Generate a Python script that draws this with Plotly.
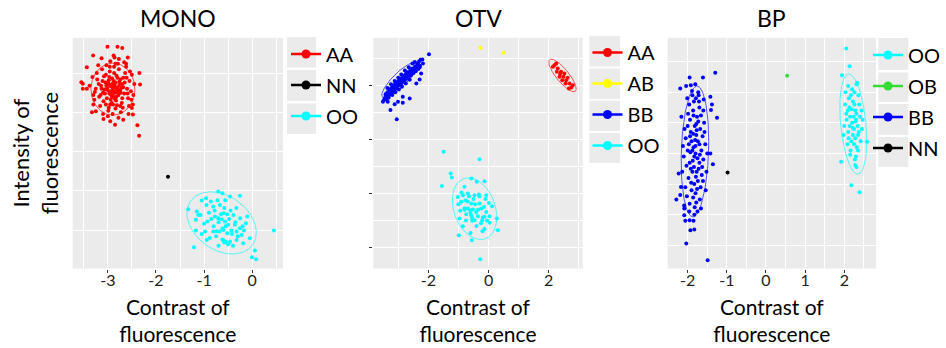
import numpy as np
import plotly.graph_objects as go

W, H = 946, 348
FONT = "Lato"

# ---------------- DATA ----------------
# MONO panel
MONO_AA = [
    (-3.008, 1.835), (-2.80, 1.835), (-2.70, 1.82), (-3.305, 1.724), (-3.13, 1.69), (-2.88, 1.724),
    (-2.585, 1.70), (-3.436, 1.575), (-3.55, 1.383), (-3.52, 1.366), (-3.52, 1.30), (-3.436, 1.30),
    (-2.344, 1.503), (-2.33, 1.354), (-3.33, 1.0), (-3.25, 1.013), (-3.09, 0.916), (-2.85, 0.843),
    (-2.95, 0.885), (-2.68, 0.907), (-2.50, 1.056), (-2.48, 0.971), (-2.386, 0.834), (-2.35, 0.702),
    (-2.95, 1.10), (-3.30, 1.10),
    (-2.90, 1.30), (-2.85, 1.25), (-2.95, 1.35), (-2.80, 1.32), (-3.00, 1.28), (-2.88, 1.40), (-2.92, 1.20),
    (-2.75, 1.28), (-3.05, 1.38), (-2.83, 1.15), (-2.97, 1.45), (-2.70, 1.36), (-3.10, 1.25), (-2.86, 1.33),
    (-2.78, 1.22), (-2.93, 1.27), (-3.02, 1.18), (-2.66, 1.24), (-2.82, 1.47), (-3.14, 1.34), (-2.89, 1.10),
    (-2.74, 1.42), (-3.08, 1.46), (-2.60, 1.30), (-2.96, 1.52), (-3.18, 1.20), (-2.84, 1.05), (-2.71, 1.12),
    (-3.04, 1.10), (-2.55, 1.40), (-3.22, 1.42), (-2.87, 1.58), (-2.64, 1.50), (-3.12, 1.55), (-2.79, 1.62),
    (-3.25, 1.30), (-2.58, 1.18), (-2.99, 1.02), (-2.69, 1.06), (-3.16, 1.08), (-2.91, 1.36), (-2.81, 1.29),
    (-2.94, 1.23), (-2.76, 1.35), (-3.01, 1.32), (-2.87, 1.19), (-2.72, 1.31), (-3.06, 1.24), (-2.84, 1.38),
    (-2.98, 1.41), (-2.52, 1.27), (-2.62, 1.58), (-3.28, 1.16), (-2.50, 1.48), (-3.20, 1.60), (-2.95, 1.65),
    (-2.77, 1.68), (-3.32, 1.45), (-2.56, 1.08), (-3.10, 0.98), (-2.47, 1.22), (-2.68, 1.44), (-3.13, 1.30),
    (-2.90, 0.98), (-2.73, 1.00), (-2.45, 1.36), (-3.27, 1.26), (-2.62, 1.62), (-3.03, 1.60), (-2.86, 1.70),
    (-3.00, 0.95), (-2.57, 0.98), (-3.38, 1.34), (-2.48, 1.10), (-2.78, 0.93),
    (-2.88, 1.27), (-2.83, 1.31), (-2.93, 1.33), (-2.79, 1.26), (-2.97, 1.24), (-2.86, 1.36), (-2.90, 1.22),
    (-2.82, 1.20), (-3.03, 1.34), (-2.76, 1.39), (-2.91, 1.43), (-2.73, 1.25), (-3.07, 1.29), (-2.85, 1.17),
    (-2.68, 1.32), (-2.99, 1.37), (-2.80, 1.44), (-2.94, 1.16), (-3.11, 1.40), (-2.65, 1.38), (-2.87, 1.50),
    (-3.04, 1.48), (-2.77, 1.55), (-2.92, 1.12), (-2.70, 1.18), (-3.15, 1.22), (-2.61, 1.44), (-2.96, 1.58),
    (-2.84, 1.62), (-3.09, 1.14), (-2.74, 1.08), (-3.19, 1.36), (-2.59, 1.24), (-2.81, 1.09), (-3.23, 1.50),
    (-2.54, 1.52), (-2.98, 1.06), (-2.66, 1.64), (-3.30, 1.22), (-2.51, 1.16),
]
MONO_NN = [(-1.75, 0.18)]
MONO_OO = [
    (-0.705, -0.009), (-0.62, -0.03), (-0.255, -0.064), (-0.46, -0.073), (-1.05, -0.124), (-0.96, -0.094),
    (-1.33, -0.234), (-0.86, -0.137), (-1.15, -0.264), (-1.12, -0.307), (-1.07, -0.307), (-1.17, -0.37),
    (-0.93, -0.39), (-0.81, -0.20), (-0.67, -0.18), (-0.60, -0.285), (-0.39, -0.307), (-0.774, -0.328),
    (-0.705, -0.349), (-0.635, -0.361), (-0.566, -0.39), (-0.50, -0.434), (-0.36, -0.434), (-0.255, -0.477),
    (-0.104, -0.328), (-0.13, -0.413), (-1.17, -0.507), (-0.98, -0.52), (-0.81, -0.52), (-0.74, -0.515),
    (-0.60, -0.498), (-0.52, -0.54), (-0.43, -0.507), (-0.325, -0.52), (-0.17, -0.507), (-0.60, -0.626),
    (-0.58, -0.66), (-0.546, -0.648), (-0.46, -0.648), (-0.946, -0.626), (-0.22, -0.562), (-0.05, -0.604),
    (-0.325, -0.626), (-0.187, -0.668), (-1.21, -0.72), (0.056, -0.762), (-0.006, -0.847), (0.083, -0.872),
    (0.45, -0.507),
    (-0.70, -0.40), (-0.55, -0.45), (-0.65, -0.30), (-0.48, -0.36), (-0.80, -0.45), (-0.42, -0.55),
    (-0.90, -0.28), (-0.58, -0.22), (-0.35, -0.40), (-0.75, -0.58), (-0.62, -0.48), (-0.52, -0.30),
    (-0.85, -0.36), (-0.68, -0.52), (-0.45, -0.25), (-1.00, -0.42), (-0.30, -0.58), (-0.95, -0.18),
    (-0.50, -0.68), (-0.72, -0.12), (-0.40, -0.70), (-0.25, -0.35), (-1.05, -0.55), (-0.78, -0.25),
    (-0.62, -0.62), (-0.20, -0.45), (-0.88, -0.60), (-0.56, -0.12), (-0.33, -0.22), (-0.70, -0.70),
]

# OTV panel
OTV_AA = [
    (2.19, 2.37), (2.30, 2.31), (2.41, 2.25), (2.49, 2.155), (2.58, 2.094), (2.69, 2.033), (2.75, 1.96),
    (2.27, 2.25), (2.36, 2.155), (2.52, 2.218), (2.14, 2.34), (2.63, 2.14), (2.45, 2.094), (2.80, 2.00),
    (2.25, 2.40), (2.56, 2.033), (2.38, 2.205), (2.67, 1.94),
]
OTV_AB = [(-0.27, 2.69), (0.50, 2.60)]
OTV_BB = [
    (-1.98, 2.57), (-2.20, 2.477), (-2.18, 2.40), (-2.35, 2.40), (-2.29, 2.33), (-2.24, 2.218), (-2.29, 2.107),
    (-2.40, 2.033), (-2.62, 1.756), (-2.85, 1.786), (-3.01, 1.693), (-3.12, 1.65), (-3.26, 1.54), (-3.05, 1.373),
    (-3.51, 1.693), (-3.42, 1.835), (-3.35, 1.693), (-2.85, 1.675),
    (-3.45, 1.76), (-3.42, 1.80), (-3.40, 1.84), (-3.38, 1.78), (-3.36, 1.87), (-3.35, 1.81), (-3.33, 1.85),
    (-3.30, 1.90), (-3.30, 1.82), (-3.28, 1.88), (-3.26, 1.93), (-3.25, 1.85), (-3.23, 1.90), (-3.21, 1.96),
    (-3.20, 1.88), (-3.18, 1.93), (-3.16, 1.99), (-3.15, 1.90), (-3.13, 1.95), (-3.12, 2.01), (-3.10, 1.93),
    (-3.08, 1.99), (-3.06, 2.04), (-3.05, 1.96), (-3.03, 2.01), (-3.01, 2.07), (-3.00, 1.99), (-2.98, 2.04),
    (-2.96, 2.10), (-2.95, 2.01), (-2.93, 2.06), (-2.91, 2.12), (-2.90, 2.03), (-2.88, 2.09), (-2.86, 2.15),
    (-2.85, 2.06), (-2.82, 2.12), (-2.80, 2.18), (-2.79, 2.08), (-2.76, 2.15), (-2.74, 2.21), (-2.72, 2.12),
    (-2.70, 2.18), (-2.68, 2.24), (-2.66, 2.15), (-2.63, 2.22), (-2.60, 2.28), (-2.58, 2.18), (-2.55, 2.25),
    (-2.52, 2.31), (-2.50, 2.22), (-2.47, 2.29), (-2.44, 2.35), (-2.42, 2.26), (-2.39, 2.33), (-2.36, 2.38),
    (-2.33, 2.30), (-2.31, 2.44), (-2.28, 2.36), (-2.26, 2.47), (-3.48, 1.72), (-3.40, 1.74), (-3.32, 1.77),
    (-3.20, 1.82), (-3.10, 1.87), (-2.98, 1.92), (-2.88, 1.97), (-2.75, 2.03), (-2.62, 2.10), (-3.36, 1.95),
    (-3.24, 2.02), (-3.12, 2.08), (-3.00, 2.14), (-2.90, 2.20), (-2.78, 2.27), (-2.65, 2.33), (-2.53, 2.40),
    (-2.45, 2.43),
]
OTV_OO = [
    (-1.495, 0.769), (-0.30, 0.634), (-1.262, 0.37), (-1.22, 0.296), (-1.55, 0.14), (-0.80, 0.122),
    (-0.575, 0.277), (-0.39, 0.215), (-0.133, 0.227), (-1.02, -0.063), (-0.853, -0.031), (-0.687, 0.0),
    (-0.465, -0.031), (-0.322, -0.018), (-0.076, -0.031), (-0.907, -0.155), (-0.764, -0.124), (-0.575, -0.185),
    (-0.30, -0.185), (0.01, -0.174), (-0.94, -0.32), (-0.797, -0.277), (-0.687, -0.277), (-0.608, -0.309),
    (-0.52, -0.296), (-0.41, -0.34), (-0.243, -0.277), (-0.076, -0.34), (0.12, -0.235), (-0.74, -0.383),
    (-0.575, -0.40), (-0.355, -0.42), (-0.19, -0.444), (-0.133, -0.432), (0.033, -0.42), (-0.963, -0.462),
    (-0.542, -0.506), (-0.465, -0.494), (-0.21, -0.494), (0.276, -0.462), (-0.853, -0.604), (-0.133, -0.654),
    (0.033, -0.543), (0.31, -0.678), (-0.598, -0.728), (-0.987, -0.771), (-0.555, -0.863), (-0.276, -1.214),
    (-0.60, -0.35), (-0.45, -0.20), (-0.70, -0.15), (-0.35, -0.30), (-0.55, -0.45), (-0.25, -0.55),
    (-0.80, -0.30), (-0.40, -0.60), (-0.65, -0.05), (-0.15, -0.25), (-0.50, -0.10), (-0.30, -0.05),
    (-0.90, 0.02), (-0.20, -0.70), (-0.75, -0.50), (-0.10, -0.10), (-1.00, -0.20), (-0.05, -0.50),
]

# BP panel
BP_OO = [
    (2.05, 1.715), (2.135, 1.426), (1.94, 1.279), (2.31, 1.132), (2.58, 0.19), (1.92, -0.137), (2.28, -0.19),
    (2.31, -0.22), (2.18, -0.518), (2.39, -0.632),
    (2.20, 0.50), (2.25, 0.40), (2.15, 0.60), (2.30, 0.55), (2.10, 0.35), (2.28, 0.70), (2.18, 0.20),
    (2.35, 0.30), (2.05, 0.65), (2.22, 0.85), (2.32, 0.10), (2.12, 0.90), (2.40, 0.60), (2.00, 0.45),
    (2.26, 1.00), (2.16, 0.05), (2.38, 0.80), (2.08, 0.15), (2.30, -0.05), (2.20, 1.05), (2.45, 0.40),
    (2.02, 0.80), (2.24, 0.60), (2.34, 0.45), (2.14, 0.45), (2.28, 0.25), (2.19, 0.72), (2.42, 0.20),
    (1.98, 0.30), (2.36, 0.95), (2.10, 1.10), (2.27, -0.10), (2.22, 0.30), (2.31, 0.65), (2.13, 0.75),
    (2.47, 0.55), (2.06, 0.55), (2.25, 0.15), (2.17, 0.95), (2.33, 1.15), (2.21, 0.42), (2.29, 0.52),
    (2.11, 0.25), (2.37, 0.35), (2.03, 1.00), (2.44, 0.70), (2.26, 0.80), (2.15, -0.02), (2.35, 0.05),
    (2.09, 0.70),
]
BP_OB = [(0.54, 1.27)]
BP_BB = [
    (-1.295, 1.317), (-1.95, 1.242), (-1.61, 1.242), (-2.19, 1.062), (-2.04, 1.10), (-1.92, 1.116),
    (-1.806, 1.132), (-1.42, 0.925), (-1.38, 0.80), (-1.405, 0.708), (-1.25, 0.582), (-1.42, 0.0),
    (-1.355, -0.175), (-2.23, -0.327), (-2.17, -0.546), (-2.29, -0.752), (-2.19, -0.68), (-2.087, -1.008),
    (-2.06, -1.10), (-1.95, -1.09), (-1.85, -1.10), (-1.93, -1.253), (-1.83, -1.242), (-2.036, -1.47),
    (-1.49, -1.743), (-2.087, -0.90),
    (-1.80, 0.00), (-1.85, 0.10), (-1.75, -0.08), (-1.90, 0.20), (-1.70, 0.15), (-1.95, -0.15), (-1.78, 0.30),
    (-1.88, -0.30), (-1.65, 0.05), (-2.00, 0.05), (-1.82, 0.45), (-1.72, -0.25), (-1.92, 0.35), (-1.68, 0.40),
    (-1.98, -0.40), (-1.83, -0.50), (-1.76, 0.60), (-1.60, -0.10), (-2.05, 0.25), (-1.86, 0.70), (-1.74, -0.45),
    (-1.94, 0.55), (-1.62, 0.28), (-2.03, -0.20), (-1.80, -0.65), (-1.70, 0.75), (-1.90, -0.60), (-1.58, 0.50),
    (-2.08, 0.40), (-1.84, 0.85), (-1.67, -0.55), (-1.96, 0.80), (-1.78, -0.80), (-1.88, 0.95), (-1.72, 0.95),
    (-2.02, -0.70), (-1.64, -0.35), (-1.55, 0.15), (-2.10, -0.05), (-1.81, 0.22), (-1.87, -0.12), (-1.77, 0.38),
    (-1.93, 0.02), (-1.69, -0.02), (-1.84, -0.22), (-1.73, 0.52), (-1.97, 0.15), (-1.79, -0.38), (-1.66, 0.62),
    (-1.91, -0.48), (-1.85, 0.62), (-1.76, -0.58), (-1.99, 0.65), (-1.63, -0.22), (-1.82, -0.88), (-1.71, 0.85),
    (-2.06, -0.55), (-1.57, 0.35), (-1.89, 1.02), (-1.75, -0.95), (-2.12, 0.12), (-1.61, -0.45), (-1.95, -0.82),
    (-1.69, -0.75), (-1.52, -0.30), (-2.14, -0.30), (-1.80, 0.12), (-1.86, 0.32), (-1.74, 0.20), (-1.92, -0.25),
    (-1.83, -0.05), (-1.78, 0.48), (-1.70, -0.15), (-2.00, 0.45), (-1.60, 0.70), (-1.86, -0.72), (-1.96, -0.95),
    (-1.66, -0.90), (-1.79, 0.90), (-1.54, -0.60), (-2.01, 0.90), (-1.73, 1.00), (-1.50, 0.00), (-2.16, 0.60),
    (-1.59, 0.88), (-2.09, -0.85), (-1.83, -1.00), (-1.88, 0.05), (-1.77, -0.30), (-1.94, 0.28),
]
BP_NN = [(-0.98, -0.31)]

# 95% ellipses: centre and two semi-axis vectors (data units)
ELL_MONO_AA = (-2.894, 1.296, 0.456, 0.0, 0.0, 0.332)
ELL_MONO_OO = (-0.635, -0.409, 0.645, -0.278, 0.322, 0.282)
ELL_OTV_AA = (2.458, 2.181, 0.425, -0.292, 0.163, 0.073)
ELL_OTV_BB = (-2.96, 2.094, 0.565, 0.314, 0.163, -0.091)
ELL_OTV_OO = (-0.465, -0.281, 0.362, -0.554, 0.646, 0.131)
ELL_BP_BB = (-1.814, 0.033, 0.056, 1.067, 0.347, -0.008)
ELL_BP_OO = (2.23, 0.479, -0.107, 0.817, 0.327, -0.016)

PANEL_TITLES = ["MONO", "OTV", "BP"]
X_TICKS = [[-3, -2, -1, 0], [-2, 0, 2], [-2, -1, 0, 1, 2]]
X_TICKTEXT = [["-3", "-2", "-1", "0"], ["-2", "0", "2"], ["-2", "-1", "0", "1", "2"]]
X_RANGES = [[-3.73, 0.64], [-3.83, 3.13], [-2.51, 2.81]]
Y_RANGES = [[-0.99, 1.95], [-1.386, 2.876], [-1.879, 1.889]]

COL = {"AA": "#FF0000", "NN": "#000000", "OO": "#00FFFF", "AB": "#FFFF00",
       "BB": "#0000FF", "OB": "#33DD33"}

# ---------------- LAYOUT (pixels) ----------------
def fx(p):
    return p / W


def fy(p):
    return 1 - p / H


X_DOMAINS = [[fx(72.7), fx(283)], [fx(373.3), fx(582.7)], [fx(667.7), fx(876)]]
Y_DOMAIN = [fy(268.5), fy(37.8)]

fig = go.Figure()


def add_points(pts, name, ax):
    xs = [p[0] for p in pts]
    ys = [p[1] for p in pts]
    fig.add_trace(go.Scatter(x=xs, y=ys, mode="markers", name=name, showlegend=False,
                             marker=dict(color=COL[name], size=4, line=dict(width=0)),
                             xaxis="x" + ax, yaxis="y" + ax, hoverinfo="skip"))


def add_ellipse(e, name, ax):
    cx, cy, ux, uy, vx, vy = e
    t = np.linspace(0, 2 * np.pi, 121)
    fig.add_trace(go.Scatter(x=cx + ux * np.cos(t) + vx * np.sin(t),
                             y=cy + uy * np.cos(t) + vy * np.sin(t),
                             mode="lines", showlegend=False, opacity=0.65,
                             line=dict(color=COL[name], width=1),
                             xaxis="x" + ax, yaxis="y" + ax, hoverinfo="skip"))


def add_legend_item(name, ax, leg):
    fig.add_trace(go.Scatter(x=[None], y=[None], mode="lines+markers", name=name,
                             legend=leg, legendgroup=leg + name,
                             line=dict(color=COL[name], width=2.6),
                             marker=dict(color=COL[name], size=9),
                             xaxis="x" + ax, yaxis="y" + ax))


# panel 1
add_points(MONO_AA, "AA", "")
add_points(MONO_NN, "NN", "")
add_points(MONO_OO, "OO", "")
add_ellipse(ELL_MONO_AA, "AA", "")
add_ellipse(ELL_MONO_OO, "OO", "")
for n in ["AA", "NN", "OO"]:
    add_legend_item(n, "", "legend")

# panel 2
add_points(OTV_AA, "AA", "2")
add_points(OTV_AB, "AB", "2")
add_points(OTV_BB, "BB", "2")
add_points(OTV_OO, "OO", "2")
add_ellipse(ELL_OTV_AA, "AA", "2")
add_ellipse(ELL_OTV_BB, "BB", "2")
add_ellipse(ELL_OTV_OO, "OO", "2")
for n in ["AA", "AB", "BB", "OO"]:
    add_legend_item(n, "2", "legend2")

# panel 3
add_points(BP_OO, "OO", "3")
add_points(BP_OB, "OB", "3")
add_points(BP_BB, "BB", "3")
add_points(BP_NN, "NN", "3")
add_ellipse(ELL_BP_BB, "BB", "3")
add_ellipse(ELL_BP_OO, "OO", "3")
for n in ["OO", "OB", "BB", "NN"]:
    add_legend_item(n, "3", "legend3")

BG = "#EBEBEB"
layout = dict(
    width=W, height=H, margin=dict(l=0, r=0, t=0, b=0),
    paper_bgcolor="white", plot_bgcolor=BG,
    font=dict(family=FONT, color="black"),
    showlegend=True,
)

x_minor = [0.5, 1, 0.5]
for i in range(3):
    suf = "" if i == 0 else str(i + 1)
    layout["xaxis" + suf] = dict(
        domain=X_DOMAINS[i], range=X_RANGES[i], anchor="y" + suf,
        tickvals=X_TICKS[i], ticktext=X_TICKTEXT[i],
        showgrid=True, gridcolor="white", gridwidth=1.1,
        minor=dict(dtick=x_minor[i], tick0=0, showgrid=True, gridcolor="white", gridwidth=0.5),
        ticks="outside", ticklen=3, tickcolor="#333333", tickwidth=1, ticklabelstandoff=-6,
        tickfont=dict(size=16, color="#222222", family=FONT),
        zeroline=False, showline=False, automargin=False, fixedrange=True,
        title=dict(text="Contrast of<br>fluorescence", font=dict(size=21, family=FONT), standoff=12),
    )
    layout["yaxis" + suf] = dict(
        domain=Y_DOMAIN, range=Y_RANGES[i], anchor="x" + suf,
        dtick=1, tick0=0, showticklabels=False,
        showgrid=True, gridcolor="white", gridwidth=1.1,
        minor=dict(dtick=0.5, tick0=0, showgrid=True, gridcolor="white", gridwidth=0.5),
        ticks="outside" if i == 1 else "", ticklen=3, tickcolor="#333333",
        zeroline=False, showline=False, automargin=False, fixedrange=True,
    )
layout["yaxis"]["title"] = dict(text="Intensity of<br>fluorescence", font=dict(size=22, family=FONT), standoff=7)

LEG_POS = [(fx(286), "left"), (fx(587.5), "left"), (1.0, "right")]
LEG_TOP = [34.5, 33.0, 35.5]
for i, key in enumerate(["legend", "legend2", "legend3"]):
    layout[key] = dict(x=LEG_POS[i][0], y=fy(LEG_TOP[i]), xanchor=LEG_POS[i][1], yanchor="top",
                       bgcolor="rgba(0,0,0,0)", font=dict(size=20, family=FONT, color="black"),
                       tracegroupgap=2, itemsizing="trace", traceorder="grouped")

annotations = []
for i in range(3):
    annotations.append(dict(text=PANEL_TITLES[i], x=sum(X_DOMAINS[i]) / 2, y=fy(18), xref="paper", yref="paper",
                            showarrow=False, xanchor="center", yanchor="middle", font=dict(size=23, family=FONT)))
layout["annotations"] = annotations

# gray legend key boxes
shapes = []
BOX_X = [(287, 316), (589.3, 620), (878.3, 908.3)]
BOX_Y = [[(37, 67.5), (70, 101), (103.5, 134)],
         [(36, 66.5), (68.5, 99), (100.5, 131), (133, 163)],
         [(38, 70), (72.5, 102), (104, 135), (137, 167)]]
for i in range(3):
    for (y0, y1) in BOX_Y[i]:
        shapes.append(dict(type="rect", xref="paper", yref="paper", x0=fx(BOX_X[i][0]), x1=fx(BOX_X[i][1]),
                           y0=fy(y1), y1=fy(y0), fillcolor=BG, line=dict(width=0), layer="below"))
layout["shapes"] = shapes

fig.update_layout(**layout)
fig.write_html("out.html", config={"displayModeBar": False},
               post_script="document.body.style.margin='0';document.body.style.padding='0';")
